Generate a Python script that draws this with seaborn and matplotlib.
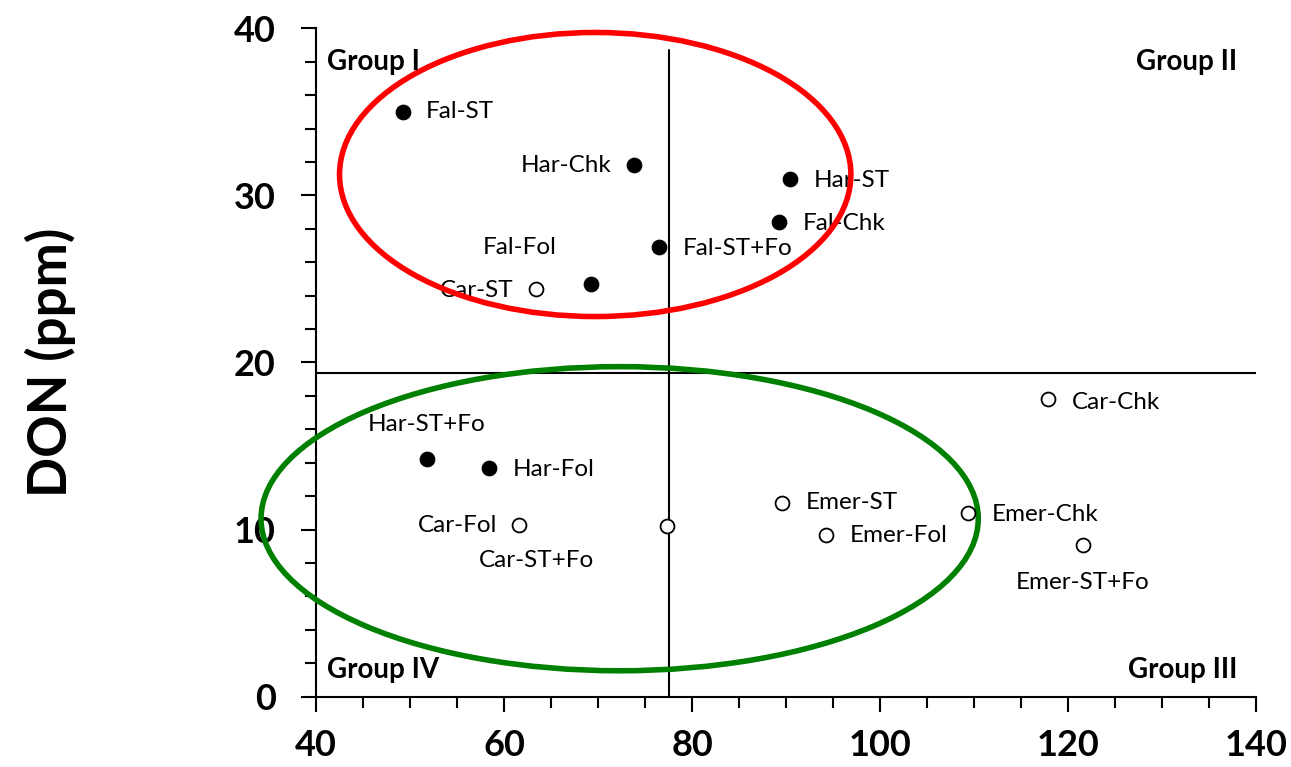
import matplotlib
matplotlib.use("Agg")
import matplotlib.pyplot as plt
from matplotlib.patches import Ellipse
from matplotlib.ticker import MultipleLocator
import seaborn as sns
import pandas as pd

# Treatment labels and their (x, DON) values
labels = ["Fal-ST", "Har-Chk", "Har-ST", "Fal-Chk", "Fal-ST+Fo", "Fal-Fol",
          "Har-ST+Fo", "Har-Fol",
          "Car-ST", "Car-Chk", "Car-Fol", "Car-ST+Fo",
          "Emer-ST", "Emer-Fol", "Emer-Chk", "Emer-ST+Fo"]
x_vals = [49.2, 73.8, 90.4, 89.3, 76.5, 69.3,
          51.8, 58.4,
          63.4, 117.9, 61.6, 77.3,
          89.6, 94.3, 109.4, 121.6]
don = [35.0, 31.8, 31.0, 28.4, 26.9, 24.7,
       14.2, 13.7,
       24.4, 17.8, 10.3, 10.2,
       11.6, 9.7, 11.0, 9.1]
filled = [True] * 8 + [False] * 8

# reference lines (means)
x_line = 77.5
y_line = 19.4

data = pd.DataFrame({"label": labels, "x": x_vals, "don": don, "filled": filled})

sns.set_style("white")
plt.rcParams['font.family'] = ['Lato', 'DejaVu Sans']
plt.rcParams.update({"text.color": "black", "axes.labelcolor": "black",
                     "xtick.color": "black", "ytick.color": "black"})

fig = plt.figure(figsize=(12.91, 7.67), dpi=100)
ax = fig.add_axes([0.2448, 0.0917, 0.9729 - 0.2448, 0.9631 - 0.0917])

sns.scatterplot(data=data[data["filled"]], x="x", y="don", ax=ax,
                color="black", edgecolor="black", s=110, zorder=4)
sns.scatterplot(data=data[~data["filled"]], x="x", y="don", ax=ax,
                facecolor="white", edgecolor="black", linewidth=1.3, s=100, zorder=4)

# label placement: offsets in points, alignment
offsets = {
    "Fal-ST": (17, 0, "left"), "Har-Chk": (-16, 0, "right"), "Har-ST": (17, -1, "left"),
    "Fal-Chk": (17, -1, "left"), "Fal-ST+Fo": (17, -1, "left"), "Fal-Fol": (-52, 26, "center"),
    "Har-ST+Fo": (0, 25, "center"), "Har-Fol": (17, -1, "left"),
    "Car-ST": (-16, -1, "right"), "Car-Chk": (17, -2, "left"), "Car-Fol": (-16, -1, "right"),
    "Car-ST+Fo": (-94, -25, "center"), "Emer-ST": (17, 0, "left"), "Emer-Fol": (17, -1, "left"),
    "Emer-Chk": (17, -1, "left"), "Emer-ST+Fo": (0, -27, "center"),
}
for lab, xv, yv in zip(labels, x_vals, don):
    dx, dy, ha = offsets[lab]
    ax.annotate(lab, (xv, yv), xytext=(dx, dy), textcoords="offset points",
                ha=ha, va="center", fontsize=17.5, color="black")

ax.plot([x_line, x_line], [0, 38.7], color="black", lw=1.5, zorder=2)
ax.axhline(y_line, color="black", lw=1.5, zorder=2)

ax.add_patch(Ellipse((69.7, 31.25), 54.4, 17.0, fill=False, edgecolor="#FF0000",
                     lw=4, zorder=3, clip_on=False))
ax.add_patch(Ellipse((72.3, 10.65), 76.3, 18.2, fill=False, edgecolor="#008000",
                     lw=4, zorder=3, clip_on=False))

gkw = dict(transform=ax.transAxes, fontsize=20, fontweight="bold", va="center")
ax.text(0.012, 0.95, "Group I", ha="left", **gkw)
ax.text(0.98, 0.95, "Group II", ha="right", **gkw)
ax.text(0.012, 0.04, "Group IV", ha="left", **gkw)
ax.text(0.98, 0.04, "Group III", ha="right", **gkw)

ax.set_xlim(40, 140)
ax.set_ylim(0, 40)
ax.xaxis.set_major_locator(MultipleLocator(20))
ax.xaxis.set_minor_locator(MultipleLocator(5))
ax.yaxis.set_major_locator(MultipleLocator(10))
ax.yaxis.set_minor_locator(MultipleLocator(2))
ax.tick_params(which="major", direction="out", length=11, width=1.5, labelsize=26,
               bottom=True, left=True)
ax.tick_params(axis="y", which="major", pad=18)
ax.tick_params(axis="x", which="major", pad=12)
ax.tick_params(which="minor", direction="out", length=8, width=1.5, bottom=True, left=True)
for t in ax.get_xticklabels() + ax.get_yticklabels():
    t.set_fontweight("bold")

sns.despine(ax=ax)
for sp in ["left", "bottom"]:
    ax.spines[sp].set_linewidth(1.5)
    ax.spines[sp].set_color("black")

ax.set_xlabel("")
ax.set_ylabel("DON (ppm)", fontsize=38, fontweight="bold", labelpad=114)

fig.savefig("out.png", dpi=100)
